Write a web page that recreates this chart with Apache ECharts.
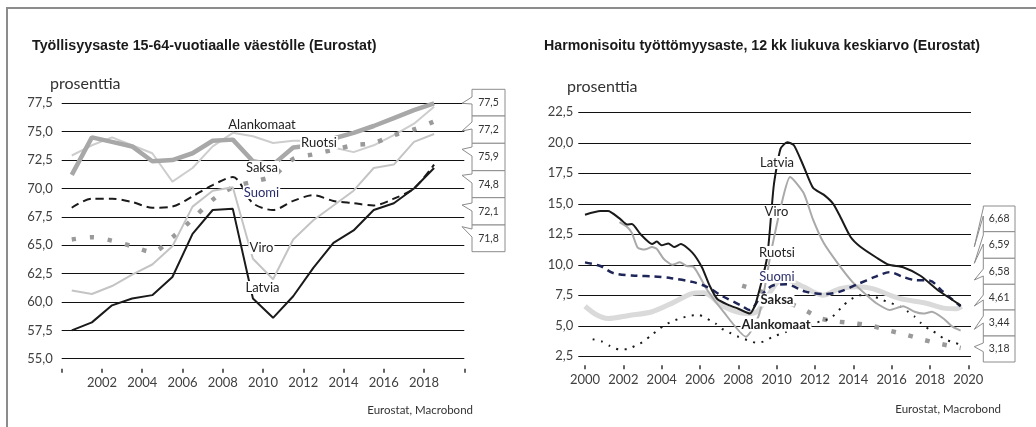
<!DOCTYPE html>
<html>
<head>
<meta charset="utf-8">
<script src="https://cdn.jsdelivr.net/npm/echarts@6/dist/echarts.min.js"></script>
<style>
html, body { margin: 0; padding: 0; background: #fff; }
#chart { width: 1036px; height: 427px; }
</style>
</head>
<body>
<div id="chart"></div>
<script>
// vasen kuva: työllisyysaste 15-64-v, vuosiarvot (piirretään vuoden puoliväliin)
var vuodet = [2000, 2001, 2002, 2003, 2004, 2005, 2006, 2007, 2008, 2009, 2010, 2011, 2012, 2013, 2014, 2015, 2016, 2017, 2018];
var ruotsiTyo     = [71.2, 74.5, 74.1, 73.7, 72.4, 72.5, 73.1, 74.2, 74.3, 72.4, 72.1, 73.6, 73.8, 74.4, 74.9, 75.5, 76.2, 76.9, 77.5];
var alankomaatTyo = [72.9, 73.8, 74.5, 73.8, 73.1, 70.6, 71.8, 73.7, 74.9, 74.6, 74.0, 74.2, 74.2, 73.6, 73.2, 73.8, 74.7, 75.7, 77.2];
var saksaTyo      = [65.5, 65.7, 65.4, 64.9, 64.4, 65.7, 67.3, 69.0, 70.1, 70.6, 71.1, 72.6, 73.0, 73.4, 73.8, 74.0, 74.7, 75.2, 75.9];
var suomiTyo      = [68.3, 69.1, 69.1, 68.8, 68.3, 68.4, 69.3, 70.3, 71.0, 68.7, 68.1, 68.9, 69.4, 68.9, 68.7, 68.5, 69.1, 70.0, 72.1];
var viroTyo       = [61.0, 60.7, 61.4, 62.4, 63.3, 64.9, 68.4, 69.8, 70.1, 63.8, 62.0, 65.5, 67.2, 68.5, 69.8, 71.8, 72.1, 74.1, 74.8];
var latviaTyo     = [57.5, 58.2, 59.7, 60.3, 60.6, 62.2, 66.0, 68.1, 68.2, 60.3, 58.6, 60.5, 63.0, 65.2, 66.3, 68.1, 68.7, 70.0, 71.8];
var vasenLoppu = ['77,5', '77,2', '75,9', '74,8', '72,1', '71,8'];
var vasenVuosiLabelit = [2002, 2004, 2006, 2008, 2010, 2012, 2014, 2016, 2018];
var vasenTikit = [2000, 2002, 2004, 2006, 2008, 2010, 2012, 2014, 2016, 2018, 2020];

// oikea kuva: työttömyysaste, 12 kk liukuva keskiarvo [vuosi, %]
var latviaTt = [[2000.0,14.1],[2000.8,14.4],[2001.2,14.4],[2001.8,13.8],[2002.2,13.3],[2002.45,13.35],[2002.9,12.5],[2003.5,11.7],[2003.75,11.9],[2004.0,11.6],[2004.35,11.75],[2004.65,11.45],[2005.0,11.7],[2005.6,11.0],[2006.1,9.8],[2006.5,8.3],[2006.9,7.2],[2007.5,6.7],[2008.0,6.4],[2008.6,6.0],[2008.9,6.8],[2009.5,10.6],[2009.85,16.5],[2010.2,19.5],[2010.55,20.05],[2010.9,19.8],[2011.4,18.1],[2011.9,16.3],[2012.45,15.75],[2012.95,15.0],[2013.3,14.0],[2013.85,12.3],[2014.35,11.5],[2015.2,10.6],[2015.85,10.0],[2016.6,9.8],[2017.5,9.1],[2018.35,8.0],[2018.9,7.4],[2019.6,6.68]];
var viroTt = [[2001.8,13.5],[2002.2,13.1],[2002.45,12.6],[2002.75,11.4],[2003.1,11.25],[2003.5,11.45],[2003.75,11.3],[2004.1,10.5],[2004.55,10.0],[2004.95,10.2],[2005.3,9.9],[2005.65,9.85],[2006.35,8.0],[2007.2,6.2],[2008.4,4.1],[2009.1,6.0],[2009.7,11.0],[2010.3,15.3],[2010.7,17.2],[2011.4,15.9],[2011.9,13.7],[2012.45,11.8],[2013.15,10.2],[2013.95,8.6],[2014.7,7.5],[2015.2,6.85],[2015.9,6.3],[2016.6,6.6],[2017.2,6.15],[2017.65,6.0],[2018.1,6.15],[2018.7,5.6],[2019.15,4.95],[2019.6,4.61]];
var ruotsiTt = [[2000.0,6.6],[2000.6,5.9],[2001.2,5.6],[2002.3,5.85],[2003.5,6.15],[2004.6,6.9],[2005.5,7.6],[2006.2,7.7],[2007.2,6.6],[2008.4,6.0],[2009.0,6.2],[2010.0,8.5],[2010.5,8.75],[2011.4,8.2],[2012.4,7.5],[2013.3,8.05],[2014.2,8.2],[2015.0,8.05],[2016.4,7.25],[2017.8,6.85],[2018.7,6.45],[2019.4,6.4],[2019.65,6.58]];
var suomiTt = [[2000.0,10.2],[2000.8,9.9],[2001.5,9.3],[2002.7,9.1],[2003.6,9.05],[2004.5,8.9],[2005.6,8.6],[2006.35,8.2],[2007.2,7.4],[2008.1,6.7],[2008.6,6.3],[2009.2,7.5],[2009.8,8.3],[2010.5,8.4],[2011.5,7.8],[2012.5,7.6],[2013.3,7.8],[2014.2,8.4],[2015.2,9.05],[2015.9,9.4],[2016.6,9.0],[2017.2,8.75],[2018.0,8.7],[2018.6,7.9],[2019.6,6.59]];
var saksaTt = [[2008.2,8.3],[2009.2,7.8],[2010.3,7.1],[2011.4,6.35],[2012.3,5.6],[2013.2,5.34],[2014.1,5.2],[2015.0,4.98],[2015.9,4.6],[2016.8,4.25],[2017.7,3.84],[2018.6,3.5],[2019.6,3.18]];
var alankomaatTt = [[2000.4,3.9],[2000.9,3.7],[2001.3,3.35],[2001.75,3.07],[2002.2,3.07],[2002.6,3.35],[2003.05,3.7],[2003.4,4.15],[2003.8,4.65],[2004.2,5.1],[2004.6,5.4],[2005.05,5.65],[2005.5,5.83],[2005.95,5.88],[2006.35,5.6],[2006.8,5.2],[2007.15,4.75],[2007.55,4.43],[2008.0,4.1],[2008.45,3.84],[2008.9,3.62],[2009.3,3.7],[2009.75,4.06],[2010.5,4.5],[2011.7,5.05],[2012.25,5.35],[2012.8,5.6],[2013.5,6.7],[2013.8,7.1],[2014.3,7.5],[2014.7,7.52],[2015.05,7.42],[2015.55,7.1],[2016.0,6.84],[2016.45,6.57],[2016.85,6.16],[2017.2,5.75],[2017.55,5.2],[2017.95,4.71],[2018.35,4.38],[2018.7,3.97],[2019.1,3.7],[2019.65,3.44]];
var oikeaLoppu = ['6,68', '6,59', '6,58', '4,61', '3,44', '3,18'];
var oikeaVuosiLabelit = [2000, 2002, 2004, 2006, 2008, 2010, 2012, 2014, 2016, 2018, 2020];

var fontti = 'Lato, "Open Sans", sans-serif';
var otsikkoFontti = '"Liberation Sans", Arial, sans-serif';

function vuosiSarja(arvot) {
    return vuodet.map(function (v, i) { return [v + 0.5, arvot[i]]; });
}

function linja(nimi, xi, data, vari, leveys, tyyppi, z, smooth) {
    return {
        name: nimi, type: 'line', xAxisIndex: xi, yAxisIndex: xi,
        data: data, symbol: 'none', smooth: smooth || false, z: z, silent: true,
        lineStyle: { color: vari, width: leveys, type: tyyppi || 'solid', cap: 'butt' }
    };
}

// selitelaatikot oikeassa reunassa
function laatikko(L, R, T, B, b1, b2, tx, ty, teksti) {
    return [{
        type: 'polygon', z: 100,
        shape: { points: [[L, T], [R, T], [R, B], [L, B], [L, b2], [tx, ty], [L, b1]] },
        style: { fill: '#fff', stroke: '#8c8c8c', lineWidth: 1 }
    }, {
        type: 'text', z: 101, x: (L + R) / 2, y: (T + B) / 2,
        style: { text: teksti, font: '10.5px ' + fontti, fill: '#333',
                 textAlign: 'center', textVerticalAlign: 'middle', align: 'center', verticalAlign: 'middle' }
    }];
}

function nimi(x, y, teksti, vari, lihava) {
    return {
        type: 'text', z: 90, x: x, y: y,
        style: { text: teksti, font: (lihava ? 'bold ' : '') + '13px ' + fontti, fill: vari || '#222',
                 backgroundColor: '#fff', padding: [0, 1],
                 textAlign: 'center', textVerticalAlign: 'middle', align: 'center', verticalAlign: 'middle' }
    };
}

var grafiikka = [
    { type: 'line', z: 50, shape: { x1: 6, y1: 8, x2: 1036, y2: 8 }, style: { stroke: '#8c8c8c', lineWidth: 2 } },
    { type: 'line', z: 50, shape: { x1: 7, y1: 8, x2: 7, y2: 427 }, style: { stroke: '#8c8c8c', lineWidth: 2 } },
    { type: 'text', x: 32, y: 46, style: { text: 'Työllisyysaste 15-64-vuotiaalle väestölle (Eurostat)', font: 'bold 14.3px ' + otsikkoFontti, fill: '#1a1a1a', textVerticalAlign: 'middle', verticalAlign: 'middle' } },
    { type: 'text', x: 544, y: 46, style: { text: 'Harmonisoitu työttömyysaste, 12 kk liukuva keskiarvo (Eurostat)', font: 'bold 14.2px ' + otsikkoFontti, fill: '#1a1a1a', textVerticalAlign: 'middle', verticalAlign: 'middle' } },
    { type: 'text', x: 50, y: 84, style: { text: 'prosenttia', font: '16px ' + fontti, fill: '#333', textVerticalAlign: 'middle', verticalAlign: 'middle' } },
    { type: 'text', x: 567, y: 87, style: { text: 'prosenttia', font: '16px ' + fontti, fill: '#333', textVerticalAlign: 'middle', verticalAlign: 'middle' } },
    { type: 'text', x: 473, y: 410, style: { text: 'Eurostat, Macrobond', font: '11.5px ' + fontti, fill: '#333', textAlign: 'right', align: 'right', textVerticalAlign: 'middle', verticalAlign: 'middle' } },
    { type: 'text', x: 1001, y: 409, style: { text: 'Eurostat, Macrobond', font: '11.5px ' + fontti, fill: '#333', textAlign: 'right', align: 'right', textVerticalAlign: 'middle', verticalAlign: 'middle' } },
    nimi(262, 124.5, 'Alankomaat'),
    nimi(319, 142.5, 'Ruotsi'),
    nimi(262, 167.5, 'Saksa'),
    nimi(261.5, 192.5, 'Suomi', '#2a2d6a'),
    nimi(261.5, 247.5, 'Viro'),
    nimi(262.5, 287.5, 'Latvia'),
    nimi(777, 162.5, 'Latvia'),
    nimi(776.5, 211.5, 'Viro'),
    nimi(777, 252.5, 'Ruotsi'),
    nimi(777, 276.5, 'Suomi', '#2a2d6a'),
    nimi(777, 300, 'Saksa', '#222', true),
    nimi(776, 325, 'Alankomaat', '#222', true)
];

var vasenYla = [89.3, 116, 143.3, 170.7, 197.7, 225, 251.7];
var vasenKarki = [[97, 104, 103.3], [122, 129, 131], [147, 156, 149.3], [174, 183, 175.3], [203, 211, 205], [229, 237, 226.7]];
var oikeaYla = [206, 231.7, 258.3, 284.3, 310, 336, 362];
var oikeaKarki = [[208, 216, 246.7], [235, 244, 263.3], [269, 276, 280], [295, 300, 306], [316, 323, 329.3], [343, 351.7, 346.7]];
for (var i = 0; i < 6; i++) {
    grafiikka = grafiikka.concat(laatikko(472, 505, vasenYla[i], vasenYla[i + 1], vasenKarki[i][0], vasenKarki[i][1], 462, vasenKarki[i][2], vasenLoppu[i]));
    grafiikka = grafiikka.concat(laatikko(983.3, 1015, oikeaYla[i], oikeaYla[i + 1], oikeaKarki[i][0], oikeaKarki[i][1], 974.3, oikeaKarki[i][2], oikeaLoppu[i]));
}

function yAkseli(gi, min, max) {
    return {
        type: 'value', gridIndex: gi, min: min, max: max, interval: 2.5,
        axisLine: { show: false }, axisTick: { show: false },
        axisLabel: { color: '#404040', fontFamily: fontti, fontSize: 13, margin: gi === 0 ? 9 : 5,
                     formatter: function (v) { return v.toFixed(1).replace('.', ','); } },
        splitLine: { show: true, lineStyle: { color: '#111', width: 1 } }
    };
}

function xAkseli(gi, min, max, tikit, labelit) {
    return {
        type: 'value', gridIndex: gi, min: min, max: max, offset: gi === 0 ? 10 : 9,
        axisLine: { show: false },
        axisTick: { show: true, length: 4, customValues: tikit, lineStyle: { color: '#333', width: 1.5 } },
        axisLabel: { color: '#404040', fontFamily: fontti, fontSize: 13, margin: 8, customValues: labelit,
                     formatter: function (v) { return String(v); } },
        splitLine: { show: false }
    };
}

var option = {
    animation: false,
    backgroundColor: '#fff',
    grid: [
        { left: 61.7, top: 103.3, width: 402.6, height: 255.4 },
        { left: 578.3, top: 112.3, width: 392.7, height: 244 }
    ],
    xAxis: [
        xAkseli(0, 2000, 2020, vasenTikit, vasenVuosiLabelit),
        xAkseli(1, 1999.65, 2020.14, oikeaVuosiLabelit, oikeaVuosiLabelit)
    ],
    yAxis: [yAkseli(0, 55, 77.5), yAkseli(1, 2.5, 22.5)],
    graphic: grafiikka,
    series: [
        linja('Alankomaat', 0, vuosiSarja(alankomaatTyo), '#cdcdcd', 2, 'solid', 3),
        linja('Ruotsi', 0, vuosiSarja(ruotsiTyo), '#a8a8a8', 4.5, 'solid', 4),
        linja('Saksa', 0, vuosiSarja(saksaTyo), '#9a9a9a', 4.5, [4.5, 13.5], 5, 0.3),
        linja('Viro', 0, vuosiSarja(viroTyo), '#c4c4c4', 2, 'solid', 6),
        linja('Suomi', 0, vuosiSarja(suomiTyo), '#1a1a1a', 2, [8, 5], 7, 0.3),
        linja('Latvia', 0, vuosiSarja(latviaTyo), '#1a1a1a', 2, 'solid', 8),

        linja('Ruotsi', 1, ruotsiTt, '#dadada', 5, 'solid', 3, 0.3),
        linja('Saksa', 1, saksaTt, '#9a9a9a', 4.5, [4.5, 13], 4, 0.2),
        linja('Alankomaat', 1, alankomaatTt, '#1a1a1a', 2, [2, 6.5], 5, 0.2),
        linja('Viro', 1, viroTt, '#a9a9a9', 2, 'solid', 6, 0.2),
        linja('Suomi', 1, suomiTt, '#1e2557', 2.5, [7, 5], 7, 0.3),
        linja('Latvia', 1, latviaTt, '#1a1a1a', 2, 'solid', 8, 0.2)
    ]
};

var chart = echarts.init(document.getElementById('chart'));
chart.setOption(option);
</script>
</body>
</html>
